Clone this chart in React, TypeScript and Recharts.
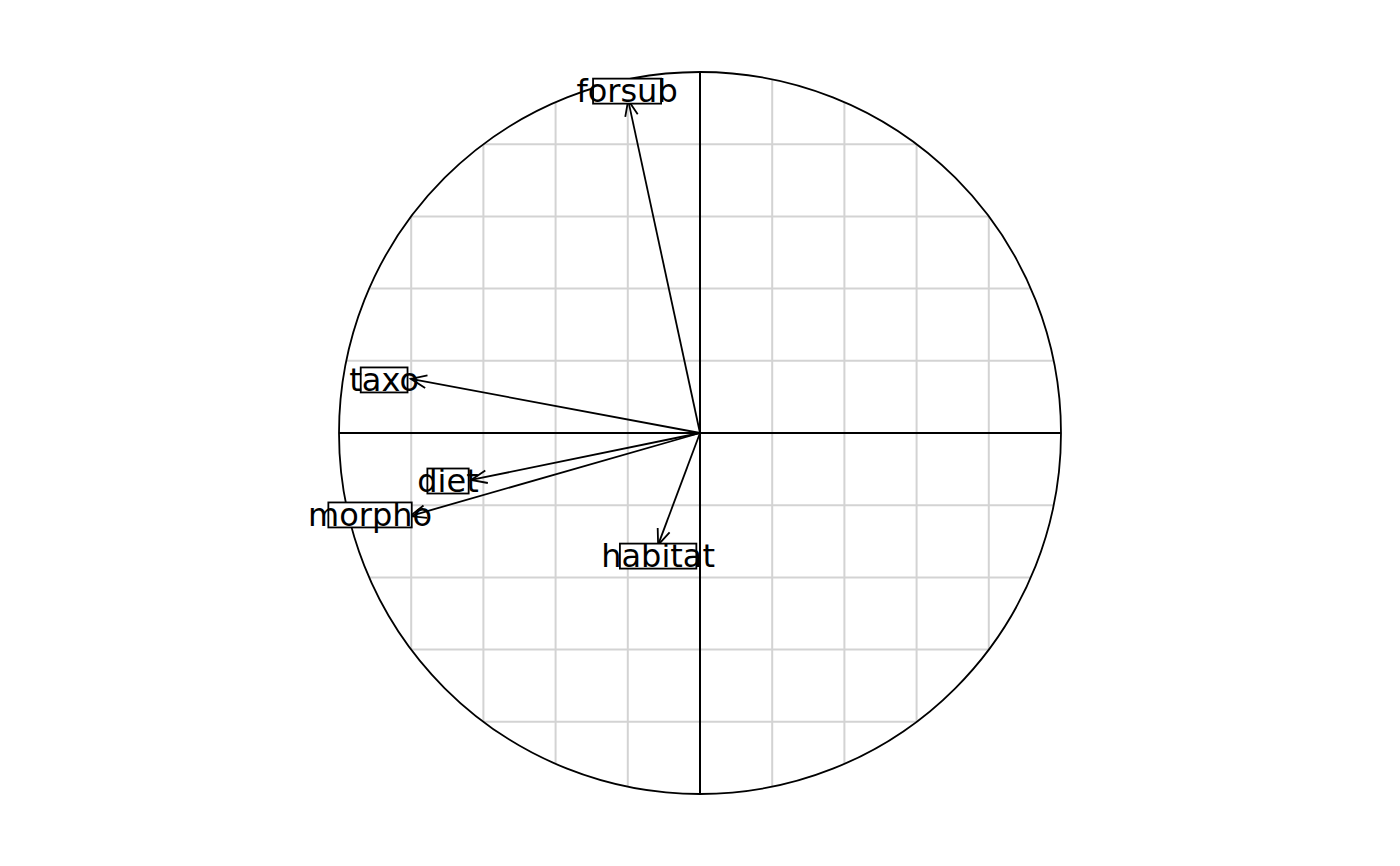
import React from 'react';
import { ScatterChart, Scatter, XAxis, YAxis, ReferenceLine, ReferenceDot } from 'recharts';

const variables = ['forsub', 'taxo', 'diet', 'morpho', 'habitat'];
const arrowX = [-0.199, -0.801, -0.634, -0.803, -0.116];
const arrowY = [0.922, 0.15, -0.13, -0.23, -0.31];
const labelX = [-0.202, -0.875, -0.698, -0.914, -0.116];
const labelY = [0.947, 0.147, -0.133, -0.227, -0.341];
const gridTicks = [-0.8, -0.6, -0.4, -0.2, 0.2, 0.4, 0.6, 0.8];

const W = 1400;
const H = 866;
const R = 361;
const FONT = "'DejaVu Sans', sans-serif";

const labels = variables.map((name, i) => ({ name, x: labelX[i], y: labelY[i] }));

let ctx: CanvasRenderingContext2D | null = null;
function boxWidth(text: string) {
    if (!ctx) ctx = document.createElement('canvas').getContext('2d');
    if (!ctx) return text.length * 11;
    ctx.font = `21.5px ${FONT}`;
    return ctx.measureText(text).width;
}

const Arrow = (props: any) => {
    const { x1, y1, x2, y2 } = props;
    const a = Math.atan2(y2 - y1, x2 - x1);
    const L = 17;
    const phi = (22 * Math.PI) / 180;
    return (
        <g>
            <line x1={x1} y1={y1} x2={x2} y2={y2} stroke="#000" strokeWidth={1.8} />
            <polyline
                points={`${x2 - L * Math.cos(a - phi)},${y2 - L * Math.sin(a - phi)} ${x2},${y2} ${x2 - L * Math.cos(a + phi)},${y2 - L * Math.sin(a + phi)}`}
                fill="none" stroke="#000" strokeWidth={1.8} />
        </g>
    );
};

const LabelBox = (props: any) => {
    const { cx, cy, payload } = props;
    const w = boxWidth(payload.name);
    return (
        <g>
            <rect x={cx - w / 2} y={cy - 12.5} width={w} height={25} fill="#fff" stroke="#000" strokeWidth={1.8} />
            <text x={cx} y={cy + 11} textAnchor="middle" fontFamily={FONT} fontSize={32} fill="#000">{payload.name}</text>
        </g>
    );
};

export default function App() {
    return (
        <div style={{ position: 'absolute', left: 0, top: 0, width: W, height: H, background: '#fff' }}>
            <ScatterChart width={W} height={H} margin={{ top: 72, bottom: 72, left: 339, right: 339 }}>
                <XAxis type="number" dataKey="x" domain={[-1, 1]} hide />
                <YAxis type="number" dataKey="y" domain={[-1, 1]} hide />
                {gridTicks.map(t => {
                    const h = Math.sqrt(1 - t * t);
                    return <ReferenceLine key={'v' + t} segment={[{ x: t, y: -h }, { x: t, y: h }]} stroke="#d3d3d3" strokeWidth={2} />;
                })}
                {gridTicks.map(t => {
                    const h = Math.sqrt(1 - t * t);
                    return <ReferenceLine key={'h' + t} segment={[{ x: -h, y: t }, { x: h, y: t }]} stroke="#d3d3d3" strokeWidth={2} />;
                })}
                <ReferenceLine segment={[{ x: -1, y: 0 }, { x: 1, y: 0 }]} stroke="#000" strokeWidth={2} />
                <ReferenceLine segment={[{ x: 0, y: -1 }, { x: 0, y: 1 }]} stroke="#000" strokeWidth={2} />
                <ReferenceDot x={0} y={0} r={R} fill="none" stroke="#000" strokeWidth={1.8} />
                {variables.map((v, i) => (
                    <ReferenceLine key={v} segment={[{ x: 0, y: 0 }, { x: arrowX[i], y: arrowY[i] }]} shape={Arrow} />
                ))}
                <Scatter data={labels} isAnimationActive={false} shape={LabelBox} />
            </ScatterChart>
        </div>
    );
}
